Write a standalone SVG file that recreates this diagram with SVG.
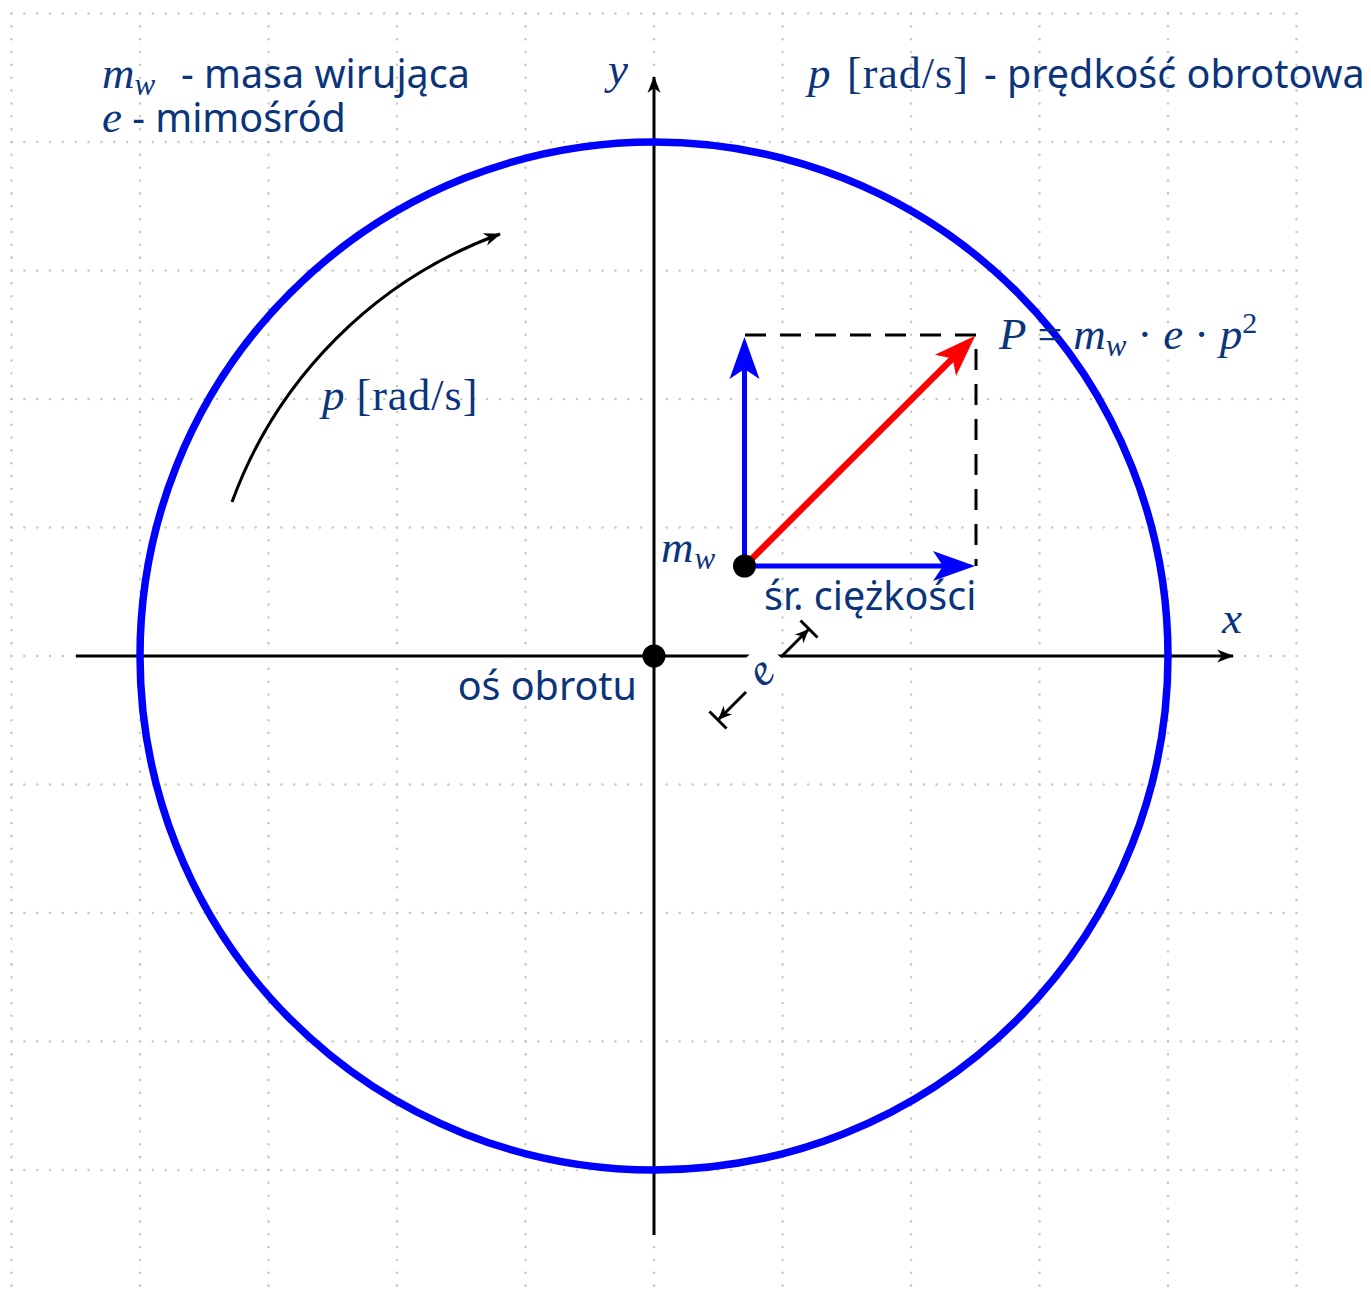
<svg xmlns="http://www.w3.org/2000/svg" width="1371" height="1297" viewBox="0 0 1371 1297">
<style>
.grid line{stroke:#c8c8c8;stroke-width:2.6;stroke-dasharray:0 12.85;stroke-linecap:round}
.ax{stroke:#000;stroke-width:3;fill:none}
.t{fill:#0b347a;font-size:42px}
.sans{font-family:"Noto Sans","DejaVu Sans",sans-serif;font-size:39.5px}
.ser{font-family:"Liberation Serif","DejaVu Serif",serif;font-size:44px;letter-spacing:1px}
.mi{font-family:"Liberation Serif","DejaVu Serif",serif;font-style:italic;font-size:45px}
.sub{font-size:31px}
.sup{font-size:30px}
#force .ser{letter-spacing:0}
</style>
<defs>
<marker id="ah" markerUnits="userSpaceOnUse" orient="auto" overflow="visible" markerWidth="1" markerHeight="1">
<path d="M1,0 L-16,-6.5 L-11,0 L-16,6.5 Z" fill="#000"/>
</marker>
<marker id="ahs" markerUnits="userSpaceOnUse" orient="auto" overflow="visible" markerWidth="1" markerHeight="1">
<path d="M0,0 L-14,-6 L-10,0 L-14,6 Z" fill="#000"/>
</marker>
<marker id="hb" markerUnits="userSpaceOnUse" orient="auto" overflow="visible" markerWidth="1" markerHeight="1">
<path d="M30,0 L-12,-15 L-2,0 L-12,15 Z" fill="#0000ff"/>
</marker>
<marker id="hr" markerUnits="userSpaceOnUse" orient="auto" overflow="visible" markerWidth="1" markerHeight="1">
<path d="M30,0 L-12,-15 L-2,0 L-12,15 Z" fill="#ff0000"/>
</marker>
</defs>
<rect width="1371" height="1297" fill="#fff"/>
<g class="grid" id="grid">
<line x1="11.5" y1="13.5" x2="11.5" y2="1290"/>
<line x1="140" y1="13.5" x2="140" y2="1290"/>
<line x1="268.5" y1="13.5" x2="268.5" y2="1290"/>
<line x1="397" y1="13.5" x2="397" y2="1290"/>
<line x1="525.5" y1="13.5" x2="525.5" y2="1290"/>
<line x1="654" y1="13.5" x2="654" y2="1290"/>
<line x1="782.5" y1="13.5" x2="782.5" y2="1290"/>
<line x1="911" y1="13.5" x2="911" y2="1290"/>
<line x1="1039.5" y1="13.5" x2="1039.5" y2="1290"/>
<line x1="1168" y1="13.5" x2="1168" y2="1290"/>
<line x1="1296.5" y1="13.5" x2="1296.5" y2="1290"/>
<line x1="11.5" y1="13.5" x2="1296.5" y2="13.5"/>
<line x1="11.5" y1="142" x2="1296.5" y2="142"/>
<line x1="11.5" y1="270.5" x2="1296.5" y2="270.5"/>
<line x1="11.5" y1="399" x2="1296.5" y2="399"/>
<line x1="11.5" y1="527.5" x2="1296.5" y2="527.5"/>
<line x1="11.5" y1="656" x2="1296.5" y2="656"/>
<line x1="11.5" y1="784.5" x2="1296.5" y2="784.5"/>
<line x1="11.5" y1="913" x2="1296.5" y2="913"/>
<line x1="11.5" y1="1041.5" x2="1296.5" y2="1041.5"/>
<line x1="11.5" y1="1170" x2="1296.5" y2="1170"/>
</g>
<g id="connectors">
<line class="ax" x1="76" y1="656" x2="1233" y2="656" marker-end="url(#ah)"/>
<line class="ax" x1="654" y1="1235" x2="654" y2="77" marker-end="url(#ah)"/>
<circle id="wheel" cx="654" cy="656" r="514" fill="none" stroke="#0000ff" stroke-width="7.5"/>
<path class="ax" d="M232,502 A449,449 0 0 1 500,234" marker-end="url(#ah)"/>
<polyline points="745,335 976,335 976,566" fill="none" stroke="#000" stroke-width="3" stroke-dasharray="21 14"/>
<line x1="744.5" y1="566" x2="744.5" y2="367" stroke="#0000ff" stroke-width="5" marker-end="url(#hb)"/>
<line x1="744.5" y1="566" x2="945" y2="566" stroke="#0000ff" stroke-width="5" marker-end="url(#hb)"/>
<line x1="744.5" y1="566" x2="954" y2="357" stroke="#ff0000" stroke-width="6.5" marker-end="url(#hr)"/>
</g>
<g id="dimension-e">
<rect x="-24" y="-24" width="48" height="48" fill="#fff" transform="translate(763.5 674.5) rotate(-45)"/>
<line class="ax" x1="781" y1="657" x2="809" y2="629" stroke-width="2.5" marker-end="url(#ahs)"/>
<line class="ax" x1="746" y1="692" x2="718" y2="720" stroke-width="2.5" marker-end="url(#ahs)"/>
<line class="ax" x1="800.5" y1="620.5" x2="817.5" y2="637.5"/>
<line class="ax" x1="709.5" y1="711.5" x2="726.5" y2="728.5"/>
<text class="t mi" transform="translate(763.5 674.5) rotate(-45)" x="0" y="10" text-anchor="middle">e</text>
</g>
<g id="origin"><circle cx="654" cy="656" r="11.5" fill="#000"/>
<text class="t sans" x="637" y="700" text-anchor="end">oś obrotu</text></g>
<g id="mass"><circle cx="744.5" cy="566" r="11.5" fill="#000"/>
<text class="t" x="661" y="562"><tspan class="mi">m</tspan><tspan class="mi sub" dy="7" dx="1">w</tspan></text>
<text class="t sans" x="764" y="610">śr. ciężkości</text></g>
<g id="force"><text class="t" x="999" y="349"><tspan class="mi">P</tspan><tspan class="ser"> = </tspan><tspan class="mi">m</tspan><tspan class="mi sub" dy="7">w</tspan><tspan class="ser" dy="-7"> · </tspan><tspan class="mi">e</tspan><tspan class="ser"> · </tspan><tspan class="mi">p</tspan><tspan class="ser sup" dy="-16">2</tspan></text></g>
<g id="labels">
<text class="t mi" x="608" y="84">y</text>
<text class="t mi" x="1222" y="633">x</text>
<text class="t" x="322" y="410"><tspan class="mi">p</tspan><tspan class="ser"> [rad/s]</tspan></text>
<text class="t" x="102" y="88"><tspan class="mi">m</tspan><tspan class="mi sub" dy="7">w</tspan><tspan class="sans" x="181" dy="-7">- masa wirująca</tspan><tspan class="mi" x="102" dy="44">e</tspan><tspan class="sans"> - mimośród</tspan></text>
<text class="t" x="808" y="88"><tspan class="mi">p</tspan><tspan class="ser" x="847">[rad/s]</tspan><tspan class="sans" x="984">- prędkość obrotowa</tspan></text>
</g>
</svg>
